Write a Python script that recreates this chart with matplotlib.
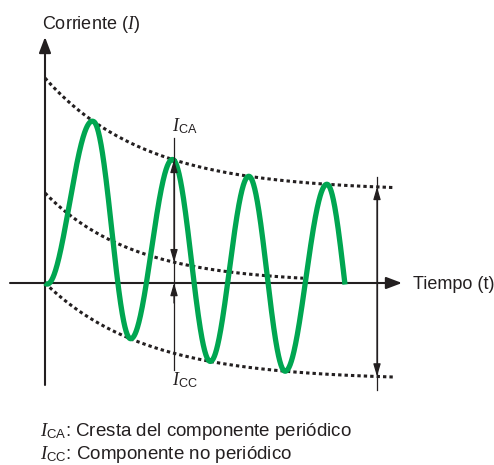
import numpy as np
import matplotlib
matplotlib.use("Agg")
import matplotlib.pyplot as plt

plt.rcParams['font.family'] = ['Liberation Sans', 'DejaVu Sans']
plt.rcParams['mathtext.fontset'] = 'custom'
plt.rcParams['mathtext.rm'] = 'Liberation Sans'
plt.rcParams['mathtext.it'] = 'Liberation Serif:italic'

# envolventes (t en px desde el origen, corriente en px hacia arriba)
sup_ini, sup_fin, tau_sup = 205, 92, 100      # envolvente superior
inf_fin, tau_inf = 97, 100                    # envolvente inferior (empieza en 0)
cc_ini, tau_cc = 90, 88                       # componente continua (no periodica)

# posiciones de valles / crestas de la onda verde
t_extremos = [0, 49, 85, 128, 165, 204, 240, 282, 317]
t_fin_onda = 300
t_fin_env = 350
t_fin_cc = 258

# marcas
t_marca_ca = 129
t_marca_der = 332

verde = '#00a651'
negro = '#231f20'


def env_sup(t):
    return sup_fin + (sup_ini - sup_fin) * np.exp(-t / tau_sup)


def env_inf(t):
    return -inf_fin * (1 - np.exp(-t / tau_inf))


def comp_cc(t):
    return cc_ini * np.exp(-t / tau_cc)


fig = plt.figure(figsize=(4.94, 4.65), dpi=100)
ax = fig.add_axes([0, 0, 1, 1])
ax.set_xlim(-45, 449)
ax.set_ylim(-182, 283)
ax.axis('off')

# envolventes punteadas
te = np.linspace(0, t_fin_env, 400)
punteado = dict(color=negro, lw=2.2, linestyle=(0, (1.1, 1.0)))
ax.plot(te, env_sup(te), **punteado)
ax.plot(te, env_inf(te), **punteado)
tc = np.linspace(0, t_fin_cc, 300)
ax.plot(tc, comp_cc(tc), **punteado)

# ejes
flecha_eje = dict(arrowstyle='-|>,head_length=0.95,head_width=0.36', color=negro,
                  lw=1.5, shrinkA=0, shrinkB=0, mutation_scale=10)
ax.annotate('', xy=(357, 0), xytext=(-35, 0), arrowprops=flecha_eje)
ax.annotate('', xy=(0, 246), xytext=(0, -102), arrowprops=flecha_eje)

# onda verde
t = np.linspace(0, t_fin_onda, 1500)
fase = np.interp(t, t_extremos, -np.pi / 2 + np.pi * np.arange(len(t_extremos)))
sup = env_sup(t)
inf = env_inf(t)
onda = (sup + inf) / 2 + (sup - inf) / 2 * np.sin(fase)
ax.plot(t, onda, color=verde, lw=3.8, solid_capstyle='butt', zorder=3)

# marcas de I_CA / I_CC
fina = dict(color=negro, lw=0.9, shrinkA=0, shrinkB=0, mutation_scale=10)
ax.plot([t_marca_ca, t_marca_ca], [145, -87], color=negro, lw=0.9, zorder=4)
ax.annotate('', xy=(t_marca_ca, env_sup(t_marca_ca)), xytext=(t_marca_ca, comp_cc(t_marca_ca)),
            arrowprops=dict(arrowstyle='<|-|>,head_length=0.75,head_width=0.22', **fina), zorder=4)
ax.annotate('', xy=(t_marca_ca, 0), xytext=(t_marca_ca, -20),
            arrowprops=dict(arrowstyle='-|>,head_length=0.75,head_width=0.22', **fina), zorder=4)

ax.plot([t_marca_der, t_marca_der], [106, -107], color=negro, lw=0.9)
ax.annotate('', xy=(t_marca_der, env_sup(t_marca_der)), xytext=(t_marca_der, env_inf(t_marca_der)),
            arrowprops=dict(arrowstyle='<|-|>,head_length=0.75,head_width=0.22', **fina))

# textos
fs = 13
ax.text(-3, 254, 'Corriente ($I$)', fontsize=fs, color=negro, va='baseline')
ax.text(368, -6, 'Tiempo (t)', fontsize=fs, color=negro, va='baseline')
ax.text(127, 152, r'$I_{\mathrm{CA}}$', fontsize=fs, color=negro, va='baseline')
ax.text(127, -102, r'$I_{\mathrm{CC}}$', fontsize=fs, color=negro, va='baseline')
ax.text(-5, -153, r'$I_{\mathrm{CA}}$: Cresta del componente periódico', fontsize=13.5,
        color=negro, va='baseline')
ax.text(-5, -176, r'$I_{\mathrm{CC}}$: Componente no periódico', fontsize=13.5,
        color=negro, va='baseline')

fig.savefig('out.png', dpi=100)
